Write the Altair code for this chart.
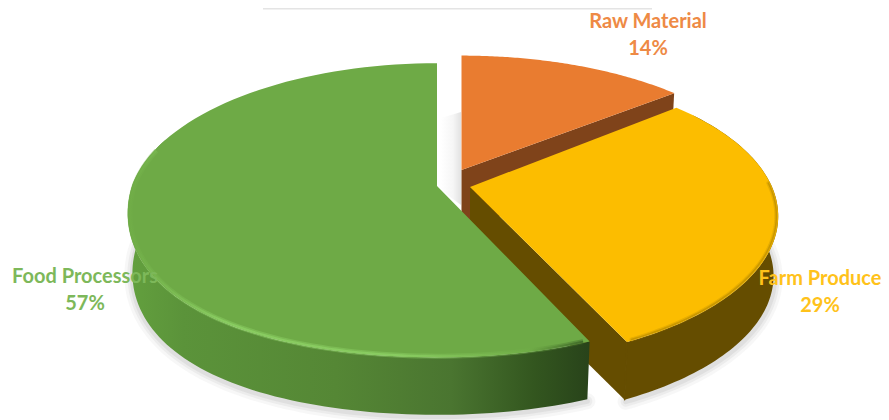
import math
import altair as alt
import pandas as pd

# ---- chart values
categories = ["Raw Material", "Farm Produce", "Food Processors"]
shares = [14, 29, 57]
percent_labels = ["14%", "29%", "57%"]
top_colors = ["#E97C30", "#FCBD00", "#6EAA46"]
label_colors = ["#EE8A45", "#FFC21A", "#7DB85A"]

# ---- drawing geometry (pixels of the photographed page)
RX, RY, DEPTH, BOTTOM = 305.0, 140.3, 60.0, 0.985
persp = {"Raw Material": 0.165, "Farm Produce": 0.2, "Food Processors": 0.165}
sag = {"Raw Material": 0.0, "Farm Produce": 0.0, "Food Processors": 20.0}
apex = {"Raw Material": (461.5, 170.0), "Farm Produce": (470.0, 187.0), "Food Processors": (437.0, 186.0)}
ry_scale = {"Raw Material": 0.95, "Farm Produce": 1.0, "Food Processors": 1.02}
rx_scale = {"Raw Material": 1.0, "Farm Produce": 0.99, "Food Processors": 1.0}
label_pos = {"Raw Material": (648, 22), "Farm Produce": (820, 279), "Food Processors": (85, 277)}

# slice angle limits from the shares, clockwise from 12 o'clock
limits, acc = {}, 0.0
for c, s in zip(categories, shares):
    limits[c] = (acc * 3.6, (acc + s) * 3.6)
    acc += s


def pt(cat, deg, bottom=False, inset=1.0):
    a = math.radians(deg)
    u, v = math.sin(a), math.cos(a)
    p = 1 / (1 + persp[cat] * v) * inset
    ax, ay = apex[cat]
    sc = BOTTOM if bottom else 1.0
    droop = sag[cat] * max(0.0, -v) * u * u
    return (ax + RX * rx_scale[cat] * u * p * sc,
            ay - RY * ry_scale[cat] * v * p * sc + droop + (DEPTH if bottom else 0))


def arc(cat, a0, a1, bottom=False, inset=1.0, n=90):
    return [pt(cat, a0 + (a1 - a0) * i / n, bottom, inset) for i in range(n + 1)]


X = alt.Scale(domain=[8, 881], range=[0, 873], nice=False, zero=False)
Y = alt.Scale(domain=[420, 8], range=[412, 0], nice=False, zero=False)


def path(points):
    return pd.DataFrame({"x": [p[0] for p in points], "y": [p[1] for p in points], "o": range(len(points))})


def enc(ch):
    return ch.encode(
        x=alt.X("x:Q", scale=X, axis=None),
        y=alt.Y("y:Q", scale=Y, axis=None),
        order=alt.Order("o:Q"),
    )


def poly(points, fill):
    pts = list(points) + [points[0]]
    return enc(alt.Chart(path(pts)).mark_line(filled=True, fill=fill, strokeWidth=0, interpolate="linear"))


def stroke(points, color, width, opacity=1.0):
    return enc(alt.Chart(path(points)).mark_line(stroke=color, strokeWidth=width, opacity=opacity,
                                                 interpolate="linear", strokeCap="round"))


def hgrad(stops):
    return alt.LinearGradient(gradient="linear", x1=0, y1=0, x2=1, y2=0,
                              stops=[alt.GradientStop(offset=o, color=c) for o, c in stops])


RAW, FARM, FOOD = categories
layers = []

# soft shadow under the walls
for w, op in [(16, 0.05), (10, 0.07), (5, 0.09)]:
    shifted = [(x, y + 2) for x, y in arc(FOOD, limits[FOOD][0], 280, True)]
    layers.append(stroke(shifted, "#666666", w, op))
    shifted = [(x + 1, y + 2) for x, y in arc(FARM, 85, limits[FARM][1], True)]
    layers.append(stroke(shifted, "#666666", w, op))

# shaded gap between green and orange
gap = [(441, 118), (461, 112), (461, 205), (441, 190)]
layers.append(poly(gap, hgrad([(0, "#ffffff"), (0.6, "#f6f6f6"), (1, "#e2e2e2")])))

# Raw Material
a0, a1 = limits[RAW]
ap = apex[RAW]
apb = (ap[0], ap[1] + DEPTH)
layers.append(poly([ap, pt(RAW, a1), pt(RAW, a1, True), apb], "#7F431A"))
layers.append(poly([ap] + arc(RAW, a0, a1), top_colors[0]))

# Farm Produce
a0, a1 = limits[FARM]
ap = apex[FARM]
apb = (ap[0], ap[1] + DEPTH)
layers.append(poly([ap, pt(FARM, a1), pt(FARM, a1, True), apb], "#654D00"))
layers.append(poly(arc(FARM, a0 + 5, a1) + arc(FARM, a0 + 5, a1, True)[::-1], "#654D00"))
layers.append(stroke([pt(FARM, a1), pt(FARM, a1, True)], "#654D00", 1.5))
layers.append(poly([ap] + arc(FARM, a0, a1), top_colors[1]))
rim = arc(FARM, a0 + 38, a1 - 1, inset=0.994)
layers.append(stroke(rim, "#B98C00", 4, 0.3))
layers.append(stroke(rim, "#8F6D00", 1.5, 0.35))

# Food Processors
a0, a1 = limits[FOOD]
ap = apex[FOOD]
wall = arc(FOOD, a0, 290) + arc(FOOD, a0, 290, True)[::-1]
layers.append(poly(wall, hgrad([(0, "#63A03E"), (0.12, "#5B933A"), (0.45, "#558735"),
                                (0.7, "#4A7530"), (0.88, "#33561F"), (1, "#28431A")])))
layers.append(poly([ap] + arc(FOOD, a0, a1), top_colors[2]))
rim = arc(FOOD, a0 + 1, 285, inset=0.993)
glow = hgrad([(0, "#70AD47"), (0.2, "#8CD064"), (0.6, "#8CD064"), (0.88, "#70AD47"), (1, "#3C6426")])
layers.append(enc(alt.Chart(path(rim)).mark_line(stroke=glow, strokeWidth=5, opacity=0.45, interpolate="linear")))
layers.append(enc(alt.Chart(path(rim)).mark_line(stroke=glow, strokeWidth=2, opacity=0.8, interpolate="linear")))

# remnant of the picture cut at the top of the page
layers.append(
    alt.Chart(pd.DataFrame({"x": [263], "x2": [652], "y": [8], "y2": [9.5]}))
    .mark_rect(color="#E4E4E4")
    .encode(x=alt.X("x:Q", scale=X, axis=None), x2="x2:Q", y=alt.Y("y:Q", scale=Y, axis=None), y2="y2:Q")
)

# labels
rows = []
for c, p, col in zip(categories, percent_labels, label_colors):
    lx, ly = label_pos[c]
    rows.append({"x": lx, "y": ly, "t": c, "c": col})
    rows.append({"x": lx, "y": ly + 27, "t": p, "c": col})
layers.append(
    alt.Chart(pd.DataFrame(rows))
    .mark_text(font="Lato", fontSize=20, fontWeight="bold", align="center", baseline="middle")
    .encode(x=alt.X("x:Q", scale=X, axis=None), y=alt.Y("y:Q", scale=Y, axis=None),
            text="t:N", color=alt.Color("c:N", scale=None))
)

chart = (
    alt.layer(*layers)
    .properties(width=873, height=412, padding=0, autosize=alt.AutoSizeParams(type="none"), background="white")
    .configure_view(stroke=None)
)
chart.save("out.html", embed_options={"renderer": "svg", "actions": False})
